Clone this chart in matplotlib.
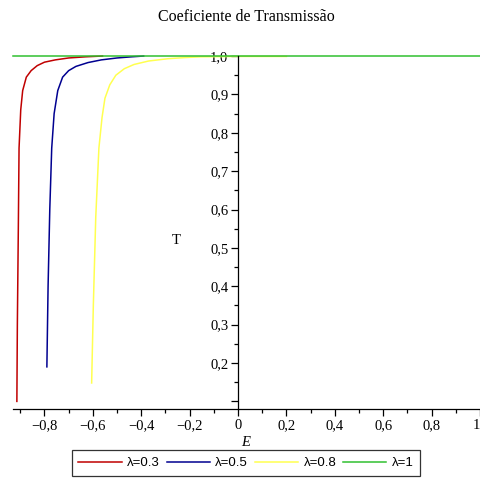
import matplotlib
matplotlib.use("Agg")
import matplotlib.pyplot as plt
from matplotlib.ticker import MultipleLocator, FuncFormatter

# curves (E, T)
E_03 = [-0.914, -0.912, -0.908, -0.905, -0.898, -0.89, -0.875, -0.855, -0.83, -0.80, -0.755, -0.70, -0.63, -0.56]
T_03 = [0.10, 0.30, 0.55, 0.76, 0.86, 0.91, 0.945, 0.962, 0.975, 0.984, 0.99, 0.995, 0.998, 1.0]

E_05 = [-0.79, -0.785, -0.778, -0.77, -0.76, -0.745, -0.725, -0.70, -0.67, -0.62, -0.565, -0.50, -0.44, -0.39]
T_05 = [0.19, 0.40, 0.60, 0.76, 0.85, 0.91, 0.945, 0.962, 0.973, 0.983, 0.99, 0.995, 0.998, 1.0]

E_08 = [-0.605, -0.598, -0.588, -0.575, -0.562, -0.55, -0.53, -0.505, -0.47, -0.43, -0.37, -0.29, -0.22, -0.155, 0.0, 0.2]
T_08 = [0.148, 0.35, 0.58, 0.76, 0.84, 0.89, 0.925, 0.95, 0.967, 0.978, 0.987, 0.993, 0.996, 0.998, 0.999, 0.999]

E_1 = [-0.93, 1.0]
T_1 = [1.0, 1.0]

labels = ["λ=0.3", "λ=0.5", "λ=0.8", "λ=1"]
colors = ["#c00000", "#000090", "#ffff50", "#30c030"]

fig = plt.figure(figsize=(4.8, 4.79), dpi=100)
ax = fig.add_axes([13 / 480, 0.146, (480 - 13) / 480, 0.737])

series = [(E_03, T_03), (E_05, T_05), (E_08, T_08), (E_1, T_1)]
for (e, t), c, lab in zip(series, colors, labels):
    ax.plot(e, t, color=c, lw=1.1, label=lab, clip_on=False)

ax.set_xlim(-0.93, 1.0)
ax.set_ylim(0.08, 1.0)

# maple style axes crossing at origin
ax.spines["left"].set_position(("data", 0))
ax.spines["bottom"].set_position(("data", 0.08))
ax.spines["right"].set_visible(False)
ax.spines["top"].set_visible(False)
for s in ["left", "bottom"]:
    ax.spines[s].set_linewidth(0.9)

ax.xaxis.set_major_locator(MultipleLocator(0.2))
ax.xaxis.set_minor_locator(MultipleLocator(0.1))
ax.yaxis.set_major_locator(MultipleLocator(0.1))
ax.yaxis.set_minor_locator(MultipleLocator(0.05))


def comma(v):
    if abs(v) < 1e-9:
        return "0"
    return f"{v:.1f}".replace(".", ",").replace("-", "\u2212")


def xfmt(v, pos):
    if abs(v - 1) < 1e-9:
        return "1"
    return comma(v)


def yfmt(v, pos):
    if v < 0.15:
        return ""
    return comma(v)


ax.xaxis.set_major_formatter(FuncFormatter(xfmt))
ax.yaxis.set_major_formatter(FuncFormatter(yfmt))

ax.tick_params(axis="both", which="major", length=5, width=0.9, direction="out", pad=2,
               labelsize=10.5, labelfontfamily="Liberation Serif")
ax.tick_params(axis="both", which="minor", length=3, width=0.9, direction="out")
fig.canvas.draw()
for lab in ax.get_xticklabels():
    if lab.get_text() == "1":
        lab.set_horizontalalignment("right")

fig.text(246 / 480, 1 - 442 / 479, "E", family="Liberation Serif", style="italic",
         fontsize=10.5, ha="center", va="center")
fig.text(176 / 480, 1 - 240 / 479, "T", family="Liberation Serif",
         fontsize=10.5, ha="center", va="center")
fig.text(246 / 480, 1 - 17 / 479, "Coeficiente de Transmissão", family="Liberation Serif",
         fontsize=11.5, ha="center", va="center")

leg = fig.legend(loc="center", bbox_to_anchor=(246 / 480, 1 - 463 / 479), ncol=4,
                 frameon=True, fancybox=False, handlelength=3.3, handletextpad=0.4,
                 columnspacing=0.5, borderpad=0.5, prop={"family": "Liberation Sans", "size": 9.5})
leg.get_frame().set_edgecolor("black")
leg.get_frame().set_linewidth(0.9)

fig.savefig("out.png", dpi=100)
